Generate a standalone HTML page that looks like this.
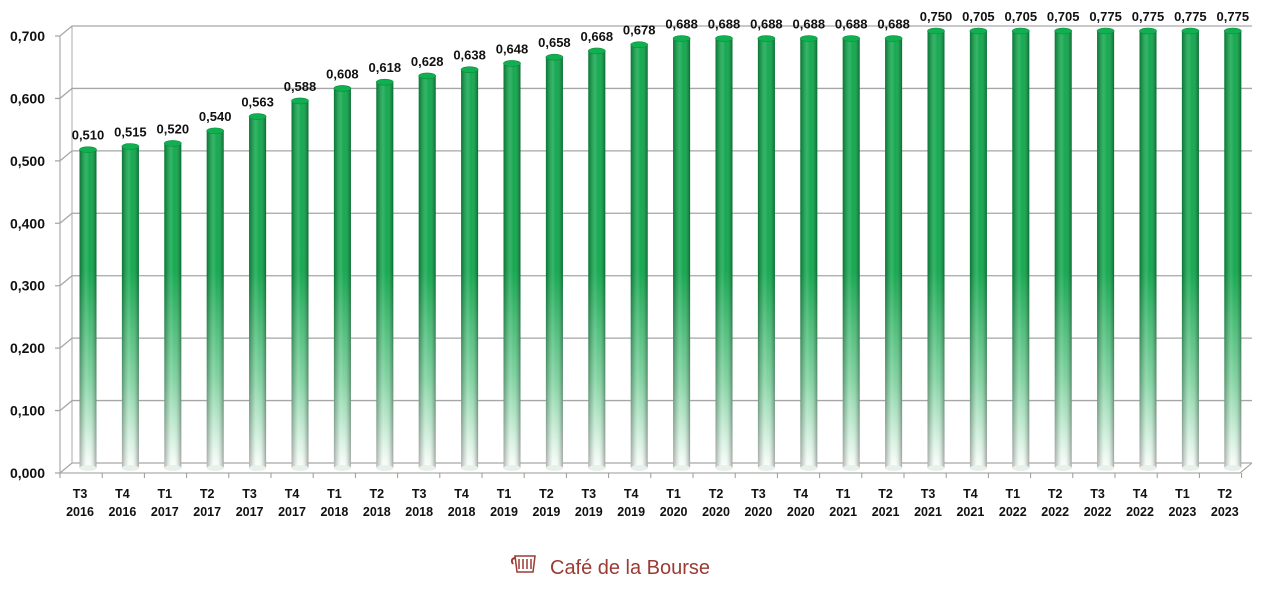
<!DOCTYPE html>
<html><head><meta charset="utf-8"><style>
body{margin:0;background:#fff;}
svg{display:block;font-family:"Liberation Sans",Arial,sans-serif;}
</style></head><body>
<svg id="chart" width="1280" height="594" viewBox="0 0 1280 594">
<defs>
<linearGradient id="hg" x1="0" y1="0" x2="1" y2="0">
<stop offset="0" stop-color="#000" stop-opacity="0.3"/>
<stop offset="0.4" stop-color="#fff" stop-opacity="0.18"/>
<stop offset="0.6" stop-color="#fff" stop-opacity="0.05"/>
<stop offset="1" stop-color="#000" stop-opacity="0.35"/>
</linearGradient>
<linearGradient id="fade" gradientUnits="userSpaceOnUse" x1="0" y1="30" x2="0" y2="470">
<stop offset="0" stop-color="#0aa548"/>
<stop offset="0.55" stop-color="#0aa548"/>
<stop offset="0.8" stop-color="#7fd3a0"/>
<stop offset="1" stop-color="#ffffff"/>
</linearGradient>
</defs>
<g id="grid"></g>
<g id="bars"></g>
<g id="labels"></g>
<g fill="#9b3b33">
<path d="M515 556 h20 l-2 16 h-16 z M519 559 v10 M523 559 v10 M527 559 v10 M531 559 v10" stroke="#9b3b33" stroke-width="1.5" fill="none"/>
<path d="M515 558 q-5 1 -2 6" stroke="#9b3b33" stroke-width="2" fill="none"/>
<text x="550" y="574" font-size="20" textLength="160" fill="#9b3b33">Café de la Bourse</text>
</g>
</svg>
<script>
const categories=["T3 2016","T4 2016","T1 2017","T2 2017","T3 2017","T4 2017","T1 2018","T2 2018","T3 2018","T4 2018","T1 2019","T2 2019","T3 2019","T4 2019","T1 2020","T2 2020","T3 2020","T4 2020","T1 2021","T2 2021","T3 2021","T4 2021","T1 2022","T2 2022","T3 2022","T4 2022","T1 2023","T2 2023"];
const values=[0.510,0.515,0.520,0.540,0.563,0.588,0.608,0.618,0.628,0.638,0.648,0.658,0.668,0.678,0.688,0.688,0.688,0.688,0.688,0.688,0.750,0.705,0.705,0.705,0.775,0.775,0.775,0.775];
const yTicks=[0,0.1,0.2,0.3,0.4,0.5,0.6,0.7];
const NS="http://www.w3.org/2000/svg";
const yMax=0.7, dx=12, dy=-10;
const yFront=v=>473-v/yMax*437;
const yMid=v=>468-Math.min(v,yMax)/yMax*437;
const xBar=i=>88+i*42.4;
const xCat=i=>80+i*42.4;
const fmt=v=>v.toFixed(3).replace('.',',');
function mk(tag,attrs,parent){const e=document.createElementNS(NS,tag);for(const k in attrs)e.setAttribute(k,attrs[k]);parent.appendChild(e);return e;}
const grid=document.getElementById('grid'),bars=document.getElementById('bars'),labels=document.getElementById('labels');
mk('line',{x1:60,y1:yFront(0),x2:60,y2:yFront(yMax),stroke:'#999','stroke-width':1},grid);
mk('line',{x1:60+dx,y1:yFront(0)+dy,x2:60+dx,y2:yFront(yMax)+dy,stroke:'#aaa','stroke-width':1},grid);
mk('path',{d:`M60 ${yFront(0)} L1240 ${yFront(0)} L${1240+dx} ${yFront(0)+dy}`,stroke:'#999',fill:'none'},grid);
yTicks.forEach(t=>{
  const y=yFront(t);
  const g=mk('path',{d:`M55 ${y} L60 ${y} L${60+dx} ${y+dy} L${1252} ${y+dy}`,stroke:'#a6a6a6',fill:'none','stroke-width':1.3},grid);
  
  
  const tx=mk('text',{x:45,y:y+5,'text-anchor':'end','font-size':14,'font-weight':'bold',fill:'#111'},grid);
  tx.textContent=fmt(t);
  
  
});
for(let i=0;i<=categories.length;i++){
  const x=60+i*42.2;
  mk('line',{x1:x,y1:yFront(0),x2:x,y2:yFront(0)+5,stroke:'#999'},grid);
}
values.forEach((v,i)=>{
  const cx=xBar(i),w=17,top=yMid(v),bot=468;
  const g=mk('g',{},bars);
  
  
  mk('rect',{x:cx-w/2,y:top,width:w,height:bot-top,fill:'url(#fade)'},g);
  mk('rect',{x:cx-w/2,y:top,width:w,height:bot-top,fill:'url(#hg)'},g);
  mk('ellipse',{cx:cx,cy:bot,rx:w/2,ry:3,fill:'#e8f0ea'},g);
  mk('ellipse',{cx:cx,cy:top,rx:w/2,ry:3,fill:'#10b050',stroke:'#0a8a3e','stroke-width':0.6},g);
  const lb=mk('text',{x:cx,y:top-10,'text-anchor':'middle','font-size':13,'font-weight':'bold',fill:'#111'},labels);
  lb.textContent=fmt(v);
  
  
  const parts=categories[i].split(' ');
  const cl=mk('text',{x:xCat(i),y:498,'text-anchor':'middle','font-size':12.5,'font-weight':'bold',fill:'#111'},labels);
  
  
  mk('tspan',{x:xCat(i),dy:0},cl).textContent=parts[0];
  mk('tspan',{x:xCat(i),dy:18},cl).textContent=parts[1];
});
</script>
</body></html>
